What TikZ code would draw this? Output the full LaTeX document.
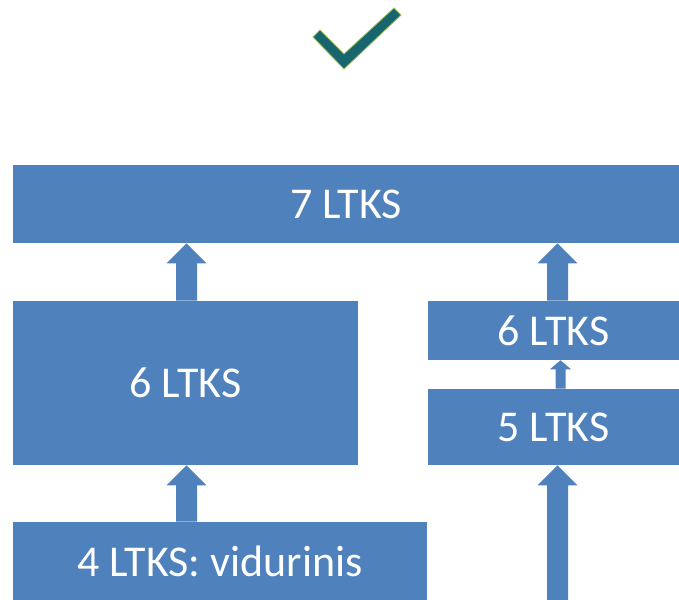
\documentclass[tikz,border=0pt]{standalone}
\usepackage{fontspec}
\setmainfont{Carlito}
\usetikzlibrary{calc,positioning}

\definecolor{ltksblue}{HTML}{4F81BD}
\definecolor{tickteal}{HTML}{17656E}
\definecolor{tickedge}{HTML}{9BBB59}

% block arrow pointing up: start, tip, half shaft, half head, head length
\newcommand\uparrowblock[5]{%
  \fill[ltksblue] ($(#1)+(-#3,0)$) -- ($(#2)+(-#3,#5)$) -- ($(#2)+(-#4,#5)$)
    -- (#2) -- ($(#2)+(#4,#5)$) -- ($(#2)+(#3,#5)$) -- ($(#1)+(#3,0)$) -- cycle;}

\begin{document}
\begin{tikzpicture}[x=0.75pt, y=-0.75pt,
                    level/.style={rectangle, fill=ltksblue, text=white, inner sep=0pt,
                                  font=\fontsize{33pt}{38pt}\selectfont}]
   \useasboundingbox (0,0) rectangle (679,600);

   % tick
   \filldraw[fill=tickteal, draw=tickedge, line width=0.6pt]
     (320,30) -- (344,54) -- (394,8) -- (401,15) -- (344,69) -- (313,37) -- cycle;

   % levels
   \node[level, minimum width=666*0.75pt, minimum height=78*0.75pt] (ltks7) at (346,204) {7 LTKS};
   \node[level, minimum width=345*0.75pt, minimum height=164*0.75pt] (ltks6a) at (185.5,383) {6 LTKS};
   \node[level, minimum width=251*0.75pt, minimum height=59*0.75pt] (ltks6b) at (553.5,330.5) {6 LTKS};
   \node[level, minimum width=251*0.75pt, minimum height=76*0.75pt] (ltks5) at (553.5,427) {5 LTKS};
   \node[level, minimum width=414*0.75pt, minimum height=78*0.75pt] (ltks4) at (220,561) {4 LTKS: vidurinis};

   \coordinate (leftway) at (186.5,0);
   \coordinate (rightway) at (557.5,0);
   \coordinate (midway) at (560.5,0);
   \coordinate (rightin) at (557.5,600);

   % transitions
   \uparrowblock{ltks4.north -| leftway}{ltks6a.south -| leftway}{10.5}{20}{20}
   \uparrowblock{ltks6a.north -| leftway}{ltks7.south -| leftway}{10.5}{20}{20}
   \uparrowblock{rightin}{ltks5.south -| rightway}{10.5}{20}{20}
   \uparrowblock{ltks5.north -| midway}{ltks6b.south -| midway}{5}{10.5}{9}
   \uparrowblock{ltks6b.north -| rightway}{ltks7.south -| rightway}{10.5}{20}{20}
\end{tikzpicture}
\end{document}
